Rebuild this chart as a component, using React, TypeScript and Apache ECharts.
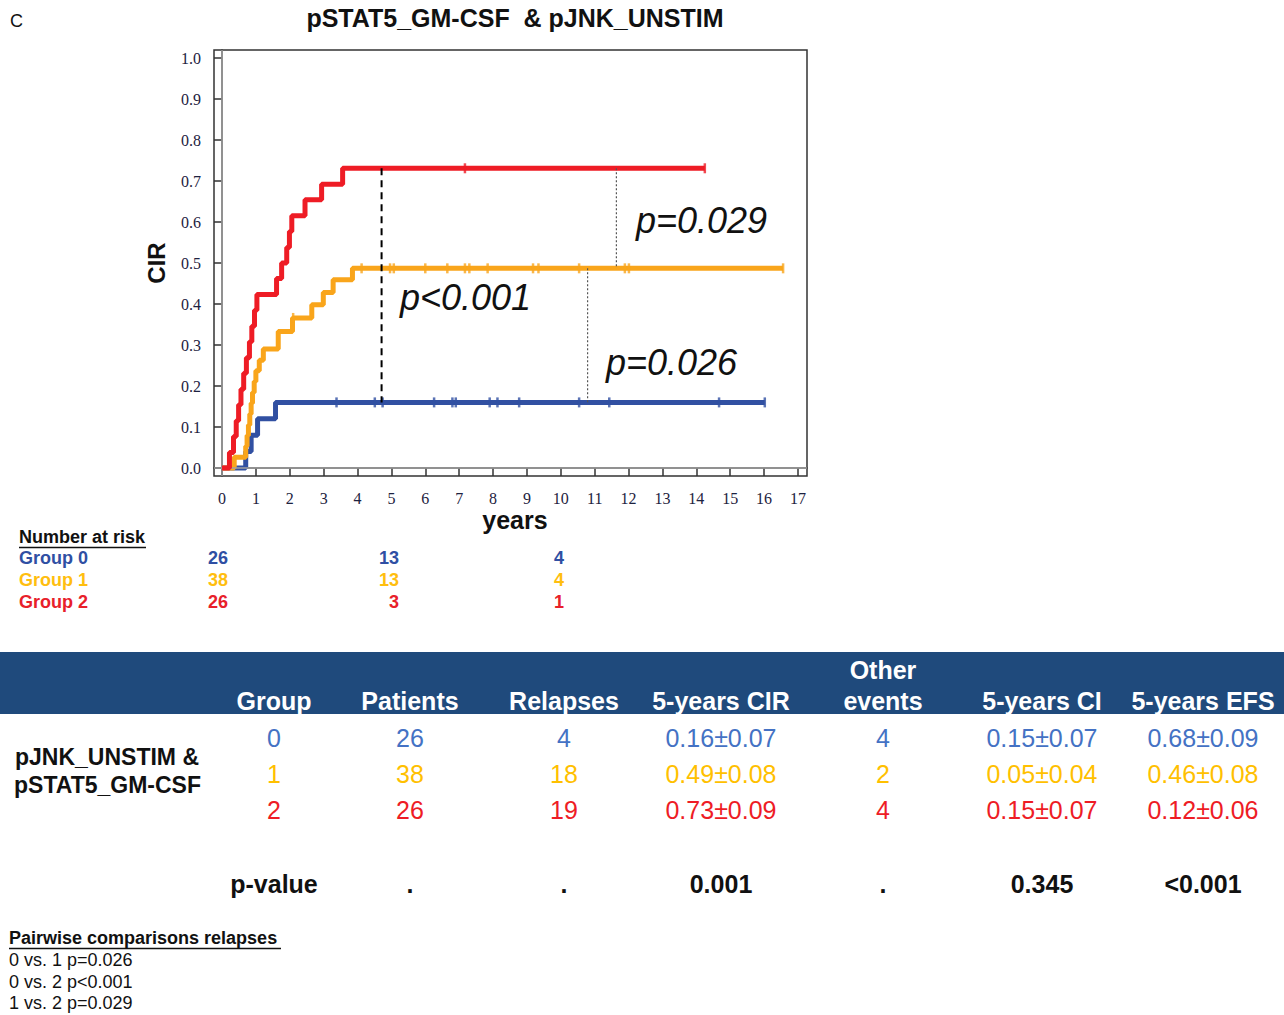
import React, { useEffect, useRef } from 'react';
import * as echarts from 'echarts';

// ---------- data ----------
const yearTicks = [0, 1, 2, 3, 4, 5, 6, 7, 8, 9, 10, 11, 12, 13, 14, 15, 16, 17];
const cirTicks = [0, 0.1, 0.2, 0.3, 0.4, 0.5, 0.6, 0.7, 0.8, 0.9, 1.0];

const groupNames = ['Group 0', 'Group 1', 'Group 2'];

const group0Times = [0.7, 0.86, 1.05, 1.58];
const group0Cir = [0.04, 0.08, 0.12, 0.16];
const group0Censor = [3.38, 4.51, 4.74, 6.26, 6.8, 6.9, 7.9, 8.13, 8.77, 10.54, 11.43, 14.67];
const group0End = 16.02;

const group1Times = [0.36, 0.7, 0.74, 0.78, 0.82, 0.86, 0.9, 0.95, 1.0, 1.1, 1.22, 1.66, 2.08, 2.65, 2.99, 3.28, 3.85];
const group1Cir = [0.026, 0.053, 0.079, 0.105, 0.132, 0.158, 0.184, 0.211, 0.237, 0.263, 0.29, 0.333, 0.366, 0.398, 0.428, 0.459, 0.487];
const group1Censor = [2.1, 4.12, 4.96, 5.07, 6.0, 6.65, 7.17, 7.3, 7.84, 9.18, 9.34, 10.54, 11.89, 12.01];
const group1End = 16.56;

const group2Times = [0.22, 0.34, 0.42, 0.49, 0.56, 0.64, 0.72, 0.81, 0.88, 0.96, 1.03, 1.61, 1.76, 1.91, 1.99, 2.06, 2.45, 2.94, 3.56];
const group2Cir = [0.038, 0.077, 0.115, 0.154, 0.192, 0.231, 0.269, 0.308, 0.346, 0.385, 0.423, 0.462, 0.5, 0.538, 0.577, 0.615, 0.654, 0.692, 0.731];
const group2Censor = [7.17];
const group2End = 14.25;

// pairwise comparison guide lines
const compX = [4.71, 11.64, 10.79];
const compFrom = [0.731, 0.731, 0.487];
const compTo = [0.16, 0.487, 0.16];
const compLabels = ['p<0.001', 'p=0.029', 'p=0.026'];

// number at risk
const riskCounts = [
  ['26', '13', '4'],
  ['38', '13', '4'],
  ['26', '3', '1'],
];

// summary table
const tableHeaders = ['Group', 'Patients', 'Relapses', '5-years CIR', 'Other\nevents', '5-years CI', '5-years EFS'];
const tableGroups = ['0', '1', '2'];
const tablePatients = ['26', '38', '26'];
const tableRelapses = ['4', '18', '19'];
const tableCir5 = ['0.16±0.07', '0.49±0.08', '0.73±0.09'];
const tableOther = ['4', '2', '4'];
const tableCi5 = ['0.15±0.07', '0.05±0.04', '0.15±0.07'];
const tableEfs5 = ['0.68±0.09', '0.46±0.08', '0.12±0.06'];
const tablePValues = ['p-value', '.', '.', '0.001', '.', '0.345', '<0.001'];
const rowLabel = ['pJNK_UNSTIM &', 'pSTAT5_GM-CSF'];

const pairwiseTitle = 'Pairwise comparisons relapses';
const pairwiseLines = ['0 vs. 1 p=0.026', '0 vs. 2 p<0.001', '1 vs. 2 p=0.029'];

// ---------- styles ----------
const curveColors = ['#3150a2', '#f9a51b', '#ee1c25'];
const riskColors = ['#2f4fa3', '#ffbe0f', '#e8202a'];
const tableColors = ['#4472c4', '#ffc000', '#ee1c25'];
const SANS = 'Liberation Sans, Arial, sans-serif';
const SERIF = 'Liberation Serif, Times New Roman, serif';

function stepData(times: number[], vals: number[], end: number) {
  const d: number[][] = [[0, 0]];
  times.forEach((t, i) => d.push([t, vals[i]]));
  d.push([end, vals[vals.length - 1]]);
  return d;
}
function valueAt(times: number[], vals: number[], t: number) {
  let v = 0;
  times.forEach((tt, i) => {
    if (tt <= t) v = vals[i];
  });
  return v;
}

function txt(text: string, x: number, y: number, o: any = {}) {
  return {
    type: 'text',
    silent: true,
    style: {
      text,
      x,
      y,
      fill: o.fill || '#111',
      fontSize: o.size || 18,
      fontWeight: o.bold ? 'bold' : 'normal',
      fontStyle: o.italic ? 'italic' : 'normal',
      fontFamily: SANS,
      align: o.align || 'left',
      verticalAlign: 'middle',
    },
  };
}

export default function App() {
  const ref = useRef<HTMLDivElement>(null);
  useEffect(() => {
    if (!ref.current) return;
    const chart = echarts.init(ref.current, undefined, { renderer: 'svg' });

    const groups = [
      { t: group0Times, v: group0Cir, c: group0Censor, e: group0End },
      { t: group1Times, v: group1Cir, c: group1Censor, e: group1End },
      { t: group2Times, v: group2Cir, c: group2Censor, e: group2End },
    ];

    const series: any[] = [];
    series.push({
      type: 'line',
      data: [[0, 0]],
      showSymbol: false,
      lineStyle: { width: 0 },
      z: 1,
      markLine: {
        silent: true,
        symbol: 'none',
        label: { show: false },
        lineStyle: { color: '#a0a0a0', width: 1.5, type: 'solid' },
        data: [{ xAxis: 0 }, { yAxis: 0 }],
      },
    });
    groups.forEach((g, i) => {
      series.push({
        type: 'line',
        name: groupNames[i],
        step: 'end',
        data: stepData(g.t, g.v, g.e),
        showSymbol: false,
        lineStyle: { color: curveColors[i], width: 5 },
        z: 3 + i,
      });
      series.push({
        type: 'scatter',
        data: [...g.c, g.e].map((t) => [t, valueAt(g.t, g.v, t)]),
        symbol: 'rect',
        symbolSize: [2.5, 10],
        itemStyle: { color: curveColors[i] },
        z: 3 + i,
      });
    });
    compX.forEach((x, i) => {
      series.push({
        type: 'line',
        data: [
          [x, compFrom[i]],
          [x, compTo[i]],
        ],
        showSymbol: false,
        lineStyle:
          i === 0
            ? { color: '#000', width: 2, type: [7, 5] }
            : { color: '#555', width: 1.2, type: [2, 2] },
        z: 8,
      });
    });

    const xMin = (214 - 222) / (576 / 17);
    const xMax = (807 - 222) / (576 / 17);
    const yMin = (468 - 476) / 410;
    const yMax = (468 - 50) / 410;

    const graphic: any[] = [];
    graphic.push(txt('C', 10, 21, { size: 18 }));
    graphic.push(txt('pSTAT5_GM-CSF  & pJNK_UNSTIM', 515, 18, { size: 25, bold: true, align: 'center' }));
    graphic.push(txt('years', 515, 520, { size: 25, bold: true, align: 'center' }));
    // p labels
    graphic.push(txt(compLabels[1], 636, 220, { size: 36, italic: true }));
    graphic.push(txt(compLabels[0], 400, 297, { size: 36, italic: true }));
    graphic.push(txt(compLabels[2], 606, 362, { size: 36, italic: true }));

    // number at risk
    graphic.push(txt('Number at risk', 19, 537, { size: 18, bold: true }));
    graphic.push({ type: 'line', silent: true, shape: { x1: 19, y1: 547.5, x2: 146, y2: 547.5 }, style: { stroke: '#111', lineWidth: 1.5 } });
    const riskX = [228, 399, 564];
    const riskY = [558, 580, 602];
    groupNames.forEach((n, i) => {
      graphic.push(txt(n, 19, riskY[i], { size: 18, bold: true, fill: riskColors[i] }));
      riskCounts[i].forEach((c, j) => {
        graphic.push(txt(c, riskX[j], riskY[i], { size: 18, bold: true, fill: riskColors[i], align: 'right' }));
      });
    });

    // table
    graphic.push({ type: 'rect', silent: true, shape: { x: 0, y: 652, width: 1284, height: 62 }, style: { fill: '#1f4a7c' } });
    const colX = [274, 410, 564, 721, 883, 1042, 1203];
    tableHeaders.forEach((h, j) => {
      const parts = h.split('\n');
      if (parts.length === 2) {
        graphic.push(txt(parts[0], colX[j], 670, { size: 25, bold: true, fill: '#fff', align: 'center' }));
        graphic.push(txt(parts[1], colX[j], 701, { size: 25, bold: true, fill: '#fff', align: 'center' }));
      } else {
        graphic.push(txt(h, colX[j], 701, { size: 25, bold: true, fill: '#fff', align: 'center' }));
      }
    });
    const rowY = [738, 774, 810];
    const cols = [tableGroups, tablePatients, tableRelapses, tableCir5, tableOther, tableCi5, tableEfs5];
    rowY.forEach((y, i) => {
      cols.forEach((col, j) => {
        graphic.push(txt(col[i], colX[j], y, { size: 25, fill: tableColors[i], align: 'center' }));
      });
    });
    graphic.push(txt(rowLabel[0], 15, 757, { size: 23, bold: true }));
    graphic.push(txt(rowLabel[1], 14, 785, { size: 23, bold: true }));
    tablePValues.forEach((p, j) => {
      graphic.push(txt(p, colX[j], 884, { size: 25, bold: true, align: 'center' }));
    });

    // pairwise
    graphic.push(txt(pairwiseTitle, 9, 938, { size: 18, bold: true }));
    graphic.push({ type: 'line', silent: true, shape: { x1: 9, y1: 948.5, x2: 281, y2: 948.5 }, style: { stroke: '#111', lineWidth: 1.5 } });
    pairwiseLines.forEach((l, i) => {
      graphic.push(txt(l, 9, 960 + i * 21.5, { size: 18 }));
    });

    chart.setOption({
      animation: false,
      backgroundColor: '#fff',
      grid: {
        left: 214,
        top: 50,
        width: 593,
        height: 426,
        show: true,
        borderColor: '#333',
        borderWidth: 1.5,
        backgroundColor: 'transparent',
      },
      xAxis: {
        type: 'value',
        min: xMin,
        max: xMax,
        axisLine: { show: true, lineStyle: { color: '#333', width: 1.5 } },
        axisTick: { show: true, length: 8, inside: false, customValues: yearTicks, lineStyle: { color: '#333', width: 1.5 } },
        axisLabel: {
          customValues: yearTicks,
          fontFamily: SERIF,
          fontSize: 16,
          color: '#1d2240',
          margin: 14,
          formatter: (v: number) => String(Math.round(v)),
        },
        splitLine: { show: false },
      },
      yAxis: {
        type: 'value',
        min: yMin,
        max: yMax,
        name: 'CIR',
        nameLocation: 'middle',
        nameGap: 46,
        nameTextStyle: { fontFamily: SANS, fontSize: 24, fontWeight: 'bold', color: '#111' },
        axisLine: { show: true, lineStyle: { color: '#333', width: 1.5 } },
        axisTick: { show: true, length: 8, inside: false, customValues: cirTicks, lineStyle: { color: '#333', width: 1.5 } },
        axisLabel: {
          customValues: cirTicks,
          fontFamily: SERIF,
          fontSize: 16,
          color: '#1d2240',
          margin: 13,
          formatter: (v: number) => v.toFixed(1),
        },
        splitLine: { show: false },
      },
      series,
      graphic,
    });
    return () => chart.dispose();
  }, []);
  return (
    <div
      ref={ref}
      style={{ position: 'absolute', left: 0, top: 0, width: 1284, height: 1015, background: '#fff' }}
    />
  );
}
